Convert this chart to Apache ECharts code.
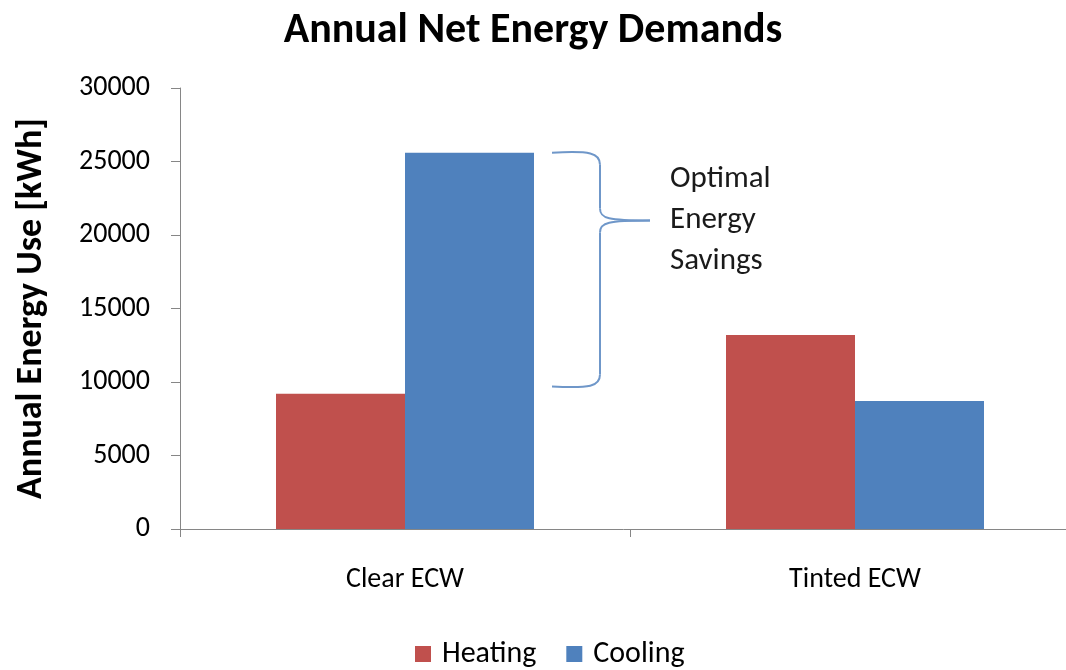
<!DOCTYPE html>
<html>
<head>
<meta charset="utf-8">
<script src="https://cdn.jsdelivr.net/npm/echarts@6/dist/echarts.min.js"></script>
<style>
  html, body { margin: 0; padding: 0; background: #fff; }
  #chart { width: 1066px; height: 670px; }
</style>
</head>
<body>
<div id="chart"></div>
<script>
// Annual net energy demand per window type
const categories = ['Clear ECW', 'Tinted ECW'];
const heating = [9200, 13200];
const cooling = [25600, 8700];
const yTicks = { min: 0, max: 30000, interval: 5000 };

// Bracket showing the savings span (data units on the value axis)
const savingsTop = 25600;
const savingsBottom = 9700;
const savingsText = ['Optimal', 'Energy', 'Savings'];

const FONT = 'Carlito, Lato, "Open Sans", sans-serif';
const AXIS_GREY = '#868686';

const chart = echarts.init(document.getElementById('chart'));
chart.setOption({
  animation: false,
  textStyle: { fontFamily: FONT },
  title: {
    text: 'Annual Net Energy Demands',
    left: 'center',
    top: 5,
    textStyle: { fontFamily: FONT, fontSize: 42, fontWeight: 'bold', color: '#000' }
  },
  legend: {
    bottom: -4,
    left: 410,
    itemWidth: 16,
    itemHeight: 16,
    itemGap: 30,
    icon: 'rect',
    textStyle: { fontFamily: FONT, fontSize: 30, color: '#000', padding: [0, 0, 0, 6] },
    data: ['Heating', 'Cooling']
  },
  grid: { left: 180, top: 88, width: 900, bottom: 141, containLabel: false, outerBoundsMode: 'none' },
  xAxis: {
    type: 'category',
    data: categories,
    axisLine: { lineStyle: { color: AXIS_GREY, width: 1 } },
    axisTick: { show: true, length: 8, alignWithLabel: false, lineStyle: { color: AXIS_GREY } },
    axisLabel: { margin: 37, fontSize: 28, color: '#000', fontFamily: FONT }
  },
  yAxis: {
    type: 'value',
    min: yTicks.min,
    max: yTicks.max,
    interval: yTicks.interval,
    name: 'Annual Energy Use [kWh]',
    nameLocation: 'middle',
    nameGap: 130,
    nameTextStyle: { fontFamily: FONT, fontSize: 36, fontWeight: 'bold', color: '#000' },
    axisLine: { show: true, lineStyle: { color: AXIS_GREY, width: 1 } },
    axisTick: { show: true, length: 9, lineStyle: { color: AXIS_GREY } },
    splitLine: { show: false },
    axisLabel: {
      margin: 30, fontSize: 28, color: '#000', fontFamily: FONT,
      formatter: (v) => String(v)
    }
  },
  series: [
    {
      name: 'Heating',
      type: 'bar',
      data: heating,
      barGap: '0%',
      barWidth: 129,
      itemStyle: { color: '#c0504d' }
    },
    {
      name: 'Cooling',
      type: 'bar',
      data: cooling,
      barGap: '0%',
      barWidth: 129,
      itemStyle: { color: '#4f81bd' }
    }
  ]
});

// Curly brace next to the Clear ECW cooling bar, with its caption
function drawBrace() {
  const yTop = chart.convertToPixel({ yAxisIndex: 0 }, savingsTop);
  const yBot = chart.convertToPixel({ yAxisIndex: 0 }, savingsBottom);
  const xCat = chart.convertToPixel({ xAxisIndex: 0 }, categories[0]);
  const x0 = xCat + 147;   // open ends of the brace
  const xs = x0 + 48;      // spine
  const xt = xs + 50;      // point
  const yMid = yTop + (yBot - yTop) * 0.29;
  const r = 12;
  const braceStyle = { stroke: '#6f97c9', lineWidth: 2, fill: null };
  const curve = (x1, y1, c1x, c1y, c2x, c2y, x2, y2) => ({
    type: 'bezierCurve', silent: true,
    shape: { x1, y1, cpx1: c1x, cpy1: c1y, cpx2: c2x, cpy2: c2y, x2, y2 },
    style: braceStyle
  });
  const seg = (x1, y1, x2, y2) => ({
    type: 'line', silent: true,
    shape: { x1, y1, x2, y2 },
    style: braceStyle
  });
  chart.setOption({
    graphic: [
      curve(x0, yTop, xs - 10, yTop - 2, xs, yTop, xs, yTop + r),
      seg(xs, yTop + r, xs, yMid - r),
      curve(xs, yMid - r, xs, yMid - 2, xs + 8, yMid, xt, yMid),
      curve(xt, yMid, xs + 8, yMid, xs, yMid + 2, xs, yMid + r),
      seg(xs, yMid + r, xs, yBot - r),
      curve(xs, yBot - r, xs, yBot, xs - 10, yBot + 2, x0, yBot),
      {
        type: 'text',
        left: xt + 20,
        top: yTop + 6,
        silent: true,
        style: {
          text: savingsText.join('\n'),
          font: '31px ' + FONT,
          lineHeight: 41,
          fill: '#1a1a1a'
        }
      }
    ]
  });
}
drawBrace();
</script>
</body>
</html>
